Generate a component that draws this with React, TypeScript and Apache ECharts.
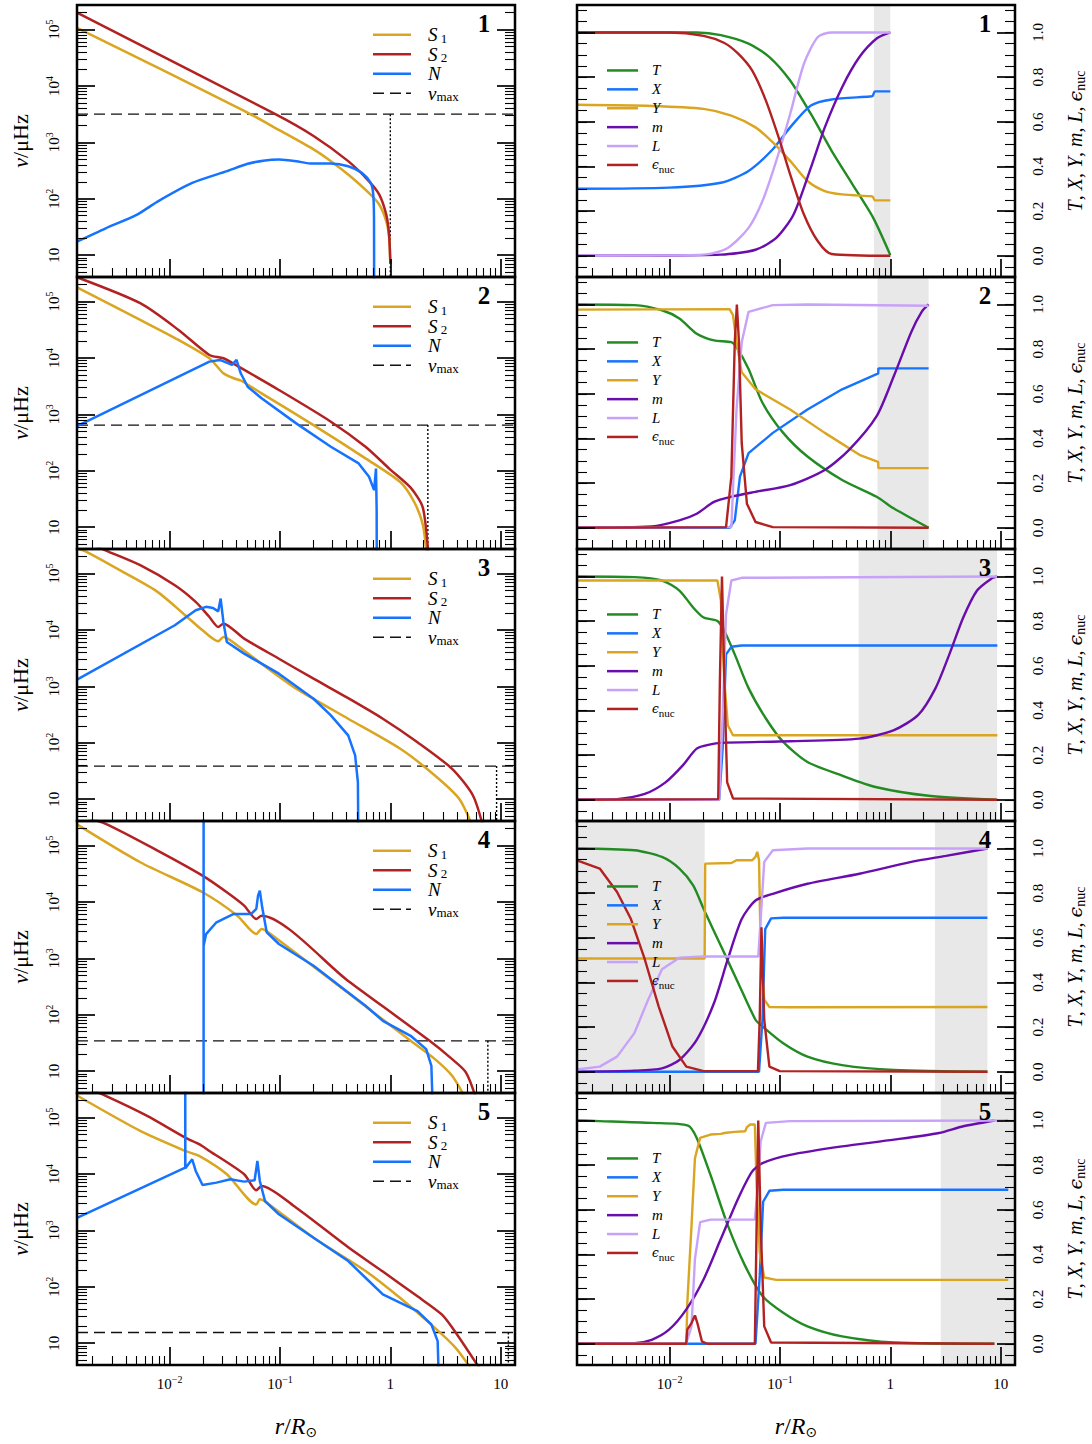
import React, { useEffect, useRef } from "react";
import * as echarts from "echarts";

const SERIF = "'Liberation Serif','DejaVu Serif',serif";

// ---- axis extents (x: log10 r/Rsun, left y: log10 nu/uHz, right y: normalised value)
const X_MIN = -2.84, X_MAX = 1.13;
const NU_MIN = 0.613, NU_MAX = 5.435;
const F_MIN = -0.095, F_MAX = 1.123;

// ---- tick values & labels
const X_MAJOR = [-2, -1, 0, 1];
const X_TICK_LABELS = ["10{sup|−2}", "10{sup|−1}", "1", "10"];
const NU_MAJOR = [1, 2, 3, 4, 5];
const NU_TICK_LABELS = ["10", "10{sup|2}", "10{sup|3}", "10{sup|4}", "10{sup|5}"];
const F_MAJOR = [0, 0.2, 0.4, 0.6, 0.8, 1.0];
const F_TICK_LABELS = ["0.0", "0.2", "0.4", "0.6", "0.8", "1.0"];
const PANEL_NUMBERS = ["1", "2", "3", "4", "5"];

// ---- left panels: [log10 r, log10 nu]
const S1_P1 = [[-2.84,5.03],[-1.325,3.56],[-1.01,3.22],[-0.696,2.875],[-0.539,2.667],[-0.382,2.43],[-0.193,2.1],[-0.099,1.893],[-0.036,1.595],[-0.01,1.3],[0.0,0.85]];
const S2_P1 = [[-2.84,5.3],[-1.042,3.5],[-0.696,3.113],[-0.382,2.667],[-0.193,2.31],[-0.099,2.07],[-0.036,1.71],[-0.011,1.357],[0.0,0.85]];
const N_P1 = [[-2.84,1.24],[-2.58,1.476],[-2.3,1.714],[-2.11,1.95],[-1.796,2.28],[-1.48,2.49],[-1.293,2.62],[-1.136,2.68],[-1.01,2.696],[-0.853,2.667],[-0.727,2.625],[-0.539,2.625],[-0.382,2.577],[-0.256,2.458],[-0.178,2.28],[-0.156,2.1],[-0.148,1.655],[-0.147,0.3]];

const S1_P2 = [[-2.84,5.25],[-2.267,4.675],[-1.92,4.32],[-1.64,3.994],[-1.513,3.728],[-1.42,3.64],[-1.356,3.6],[-1.167,3.373],[-0.696,2.81],[-0.225,2.22],[0.09,1.8],[0.215,1.45],[0.294,1.05],[0.33,0.5]];
const S2_P2 = [[-2.84,5.43],[-2.267,4.97],[-1.92,4.497],[-1.64,4.053],[-1.513,3.994],[-1.387,3.858],[-1.01,3.432],[-0.539,2.87],[-0.225,2.426],[-0.005,2.03],[0.184,1.7],[0.294,1.35],[0.345,0.5]];
const N_P2 = [[-2.84,2.79],[-1.64,3.935],[-1.545,3.965],[-1.435,3.876],[-1.394,3.965],[-1.356,3.728],[-1.293,3.49],[-1.167,3.284],[-0.853,2.84],[-0.539,2.426],[-0.287,2.13],[-0.193,1.893],[-0.147,1.657],[-0.13,2.04],[-0.124,1.3],[-0.123,0.3]];

const S1_P3 = [[-2.84,5.45],[-2.754,5.385],[-2.424,5.03],[-2.11,4.675],[-1.859,4.26],[-1.702,3.994],[-1.56,3.8],[-1.513,3.876],[-1.45,3.817],[-1.167,3.4],[-0.853,2.959],[-0.382,2.426],[0.09,1.893],[0.404,1.42],[0.624,1.006],[0.749,0.5]];
const S2_P3 = [[-2.84,5.63],[-2.55,5.385],[-2.267,5.148],[-1.953,4.793],[-1.764,4.497],[-1.64,4.23],[-1.56,4.053],[-1.513,4.112],[-1.325,3.846],[-1.01,3.49],[-0.696,3.136],[-0.382,2.79],[-0.068,2.426],[0.246,2.01],[0.56,1.538],[0.749,1.065],[0.843,0.5]];
const N_P3 = [[-2.84,3.12],[-1.953,4.083],[-1.764,4.35],[-1.67,4.41],[-1.607,4.39],[-1.56,4.33],[-1.538,4.556],[-1.513,4.142],[-1.482,3.787],[-1.325,3.58],[-1.01,3.225],[-0.696,2.78],[-0.539,2.485],[-0.382,2.13],[-0.319,1.775],[-0.294,1.3],[-0.29,0.3]];

const S1_P4 = [[-2.84,5.375],[-2.267,4.704],[-1.702,4.172],[-1.387,3.757],[-1.215,3.432],[-1.167,3.52],[-1.104,3.46],[-0.382,2.385],[0.184,1.538],[0.404,1.213],[0.56,0.917],[0.686,0.5]];
const S2_P4 = [[-2.84,5.55],[-2.58,5.385],[-2.11,4.911],[-1.702,4.467],[-1.482,4.172],[-1.325,3.935],[-1.215,3.698],[-1.167,3.757],[-0.382,2.6],[0.356,1.538],[0.56,1.213],[0.686,0.976],[0.78,0.5]];
const N_P4 = [[-1.6925,0.3],[-1.6925,6],[-1.692,3.225],[-1.67,3.43],[-1.576,3.64],[-1.419,3.787],[-1.261,3.787],[-1.215,3.876],[-1.199,4.112],[-1.183,4.2],[-1.161,3.9],[-1.12,3.46],[-1.01,3.254],[-0.696,2.87],[-0.382,2.396],[-0.225,2.16],[-0.068,1.893],[0.184,1.627],[0.325,1.39],[0.372,1.095],[0.385,0.3]];

const S1_P5 = [[-2.84,5.39],[-2.267,4.763],[-1.859,4.408],[-1.733,4.32],[-1.482,3.994],[-1.215,3.46],[-1.183,3.55],[-1.12,3.49],[-0.696,2.87],[-0.225,2.28],[0.09,1.8],[0.404,1.272],[0.592,0.917],[0.749,0.5]];
const S2_P5 = [[-2.84,5.6],[-2.58,5.385],[-2.204,5.03],[-1.859,4.645],[-1.733,4.527],[-1.64,4.408],[-1.325,3.994],[-1.215,3.71],[-1.167,3.787],[-0.853,3.4],[-0.382,2.7],[-0.068,2.27],[0.246,1.83],[0.466,1.509],[0.592,1.189],[0.827,0.5]];
const N_P5 = [[-2.84,3.22],[-1.859,4.112],[-1.859,6],[-1.858,4.1],[-1.796,4.26],[-1.764,4.053],[-1.702,3.805],[-1.576,3.846],[-1.45,3.905],[-1.325,3.864],[-1.23,3.888],[-1.205,4.23],[-1.183,3.876],[-1.136,3.52],[-1.01,3.284],[-0.696,2.87],[-0.382,2.456],[-0.225,2.16],[-0.068,1.864],[0.246,1.568],[0.372,1.331],[0.429,1.036],[0.44,0.3]];

const NUMAX_LOG = [3.5, 2.81, 1.586, 1.538, 1.189];
const RSTAR_LOG = [0.0, 0.34, 0.963, 0.884, 1.07];

// ---- right panels: [log10 r, value]
const T_P1 = [[-2.84,1.0],[-1.755,1.0],[-1.536,0.988],[-1.285,0.95],[-1.096,0.89],[-0.908,0.785],[-0.72,0.635],[-0.532,0.47],[-0.343,0.32],[-0.155,0.17],[0.0,0.003]];
const X_P1 = [[-2.84,0.3],[-2.006,0.305],[-1.536,0.327],[-1.285,0.38],[-1.065,0.477],[-0.908,0.575],[-0.72,0.673],[-0.532,0.7],[-0.186,0.713],[-0.16,0.716],[-0.139,0.736],[0.0,0.736]];
const Y_P1 = [[-2.84,0.676],[-2.163,0.671],[-1.693,0.658],[-1.441,0.628],[-1.222,0.575],[-1.065,0.508],[-0.908,0.425],[-0.751,0.335],[-0.594,0.29],[-0.437,0.275],[-0.186,0.267],[-0.16,0.265],[-0.139,0.248],[0.0,0.248]];
const M_P1 = [[-2.84,0],[-1.536,0.005],[-1.222,0.027],[-1.034,0.08],[-0.877,0.185],[-0.72,0.395],[-0.594,0.575],[-0.437,0.755],[-0.28,0.89],[-0.124,0.973],[0.0,1.0]];
const L_P1 = [[-2.84,0],[-1.693,0.005],[-1.473,0.035],[-1.285,0.125],[-1.159,0.245],[-1.034,0.425],[-0.908,0.635],[-0.783,0.86],[-0.657,0.98],[-0.532,1.0],[0.0,1.0]];
const E_P1 = [[-2.84,1.0],[-2.006,1.0],[-1.693,0.985],[-1.504,0.953],[-1.379,0.905],[-1.253,0.83],[-1.128,0.695],[-1.002,0.515],[-0.908,0.365],[-0.783,0.185],[-0.657,0.065],[-0.532,0.008],[0.0,0.0]];

const T_P2 = [[-2.84,1.0],[-2.32,0.997],[-2.07,0.974],[-1.912,0.937],[-1.755,0.869],[-1.598,0.839],[-1.441,0.831],[-1.394,0.809],[-1.285,0.711],[-1.159,0.56],[-0.971,0.425],[-0.751,0.319],[-0.437,0.214],[-0.124,0.139],[0.033,0.086],[0.347,0.0]];
const X_P2 = [[-2.84,0],[-1.457,0],[-1.41,0.033],[-1.363,0.229],[-1.285,0.334],[-1.065,0.425],[-0.751,0.53],[-0.437,0.62],[-0.124,0.688],[-0.11,0.69],[-0.108,0.714],[0.347,0.714]];
const Y_P2 = [[-2.84,0.977],[-1.457,0.979],[-1.426,0.952],[-1.394,0.831],[-1.347,0.696],[-1.222,0.62],[-0.908,0.53],[-0.594,0.425],[-0.28,0.327],[-0.124,0.297],[-0.11,0.295],[-0.108,0.267],[0.347,0.267]];
const M_P2 = [[-2.84,0],[-2.163,0.006],[-1.912,0.033],[-1.755,0.063],[-1.598,0.116],[-1.441,0.139],[-1.222,0.161],[-0.908,0.191],[-0.594,0.259],[-0.374,0.349],[-0.124,0.5],[0.033,0.681],[0.19,0.877],[0.284,0.967],[0.347,1.0]];
const L_P2 = [[-2.84,0],[-1.441,0.003],[-1.394,0.53],[-1.347,0.831],[-1.285,0.967],[-1.065,0.997],[-0.751,1.0],[0.347,0.994]];
const E_P2 = [[-2.84,0],[-1.489,0.003],[-1.441,0.229],[-1.41,0.831],[-1.391,1.0],[-1.372,0.831],[-1.347,0.38],[-1.3,0.108],[-1.222,0.026],[-1.065,0.003],[0.347,0]];

const T_P3 = [[-2.84,1.0],[-2.32,0.997],[-2.07,0.982],[-1.912,0.937],[-1.787,0.861],[-1.692,0.816],[-1.567,0.801],[-1.504,0.756],[-1.41,0.651],[-1.285,0.5],[-1.128,0.364],[-0.971,0.259],[-0.751,0.169],[-0.437,0.108],[-0.124,0.056],[0.347,0.018],[0.96,0.0]];
const X_P3 = [[-2.84,0],[-1.551,0],[-1.52,0.229],[-1.489,0.651],[-1.441,0.685],[-1.347,0.691],[0.97,0.691]];
const Y_P3 = [[-2.84,0.982],[-1.567,0.982],[-1.536,0.892],[-1.504,0.53],[-1.473,0.334],[-1.426,0.289],[0.97,0.289]];
const M_P3 = [[-2.84,0],[-2.477,0.003],[-2.226,0.026],[-2.038,0.078],[-1.881,0.154],[-1.755,0.229],[-1.63,0.248],[-1.536,0.255],[-0.908,0.262],[-0.28,0.274],[0.033,0.312],[0.253,0.38],[0.41,0.5],[0.535,0.651],[0.661,0.816],[0.786,0.937],[0.912,0.989],[0.968,1.0]];
const L_P3 = [[-2.84,0],[-1.551,0],[-1.52,0.38],[-1.489,0.831],[-1.441,0.982],[-1.347,0.994],[0.97,1.0]];
const E_P3 = [[-2.84,0],[-1.56,0.003],[-1.545,0.53],[-1.526,1.0],[-1.504,0.53],[-1.479,0.078],[-1.426,0.006],[0.97,0]];

const T_P4 = [[-2.84,1.0],[-2.32,0.992],[-2.07,0.962],[-1.912,0.91],[-1.787,0.835],[-1.692,0.729],[-1.536,0.564],[-1.379,0.398],[-1.222,0.233],[-1.159,0.203],[-0.971,0.128],[-0.751,0.068],[-0.437,0.03],[0.033,0.008],[0.88,0.0]];
const X_P4 = [[-2.84,0],[-1.19,0],[-1.159,0.233],[-1.134,0.639],[-1.081,0.687],[-0.971,0.69],[0.88,0.69]];
const Y_P4 = [[-2.84,0.507],[-1.683,0.507],[-1.678,0.932],[-1.441,0.935],[-1.394,0.947],[-1.253,0.947],[-1.222,0.962],[-1.206,0.985],[-1.19,0.947],[-1.175,0.534],[-1.143,0.323],[-1.096,0.29],[-0.908,0.289],[0.88,0.29]];
const M_P4 = [[-2.84,0],[-2.32,0.005],[-2.07,0.015],[-1.912,0.053],[-1.755,0.143],[-1.598,0.308],[-1.473,0.504],[-1.347,0.684],[-1.222,0.767],[-1.065,0.797],[-0.751,0.842],[-0.28,0.887],[0.19,0.94],[0.504,0.967],[0.88,1.0]];
const L_P4 = [[-2.84,0.01],[-2.634,0.023],[-2.477,0.068],[-2.32,0.173],[-2.195,0.323],[-2.07,0.459],[-1.912,0.511],[-1.692,0.516],[-1.197,0.516],[-1.175,0.684],[-1.143,0.94],[-1.065,0.992],[-0.751,1.0],[0.88,1.0]];
const E_P4 = [[-2.84,0.947],[-2.634,0.91],[-2.477,0.805],[-2.351,0.684],[-2.226,0.504],[-2.1,0.293],[-1.975,0.113],[-1.849,0.023],[-1.692,0.003],[-1.2,0.003],[-1.184,0.233],[-1.168,0.647],[-1.143,0.233],[-1.096,0.023],[-1.002,0.003],[0.88,0]];

const T_P5 = [[-2.84,1.0],[-2.634,0.997],[-2.163,0.989],[-1.834,0.977],[-1.755,0.922],[-1.63,0.756],[-1.473,0.53],[-1.316,0.349],[-1.159,0.214],[-0.971,0.139],[-0.751,0.078],[-0.437,0.033],[0.033,0.006],[0.943,0.0]];
const X_P5 = [[-2.84,0],[-1.222,0],[-1.184,0.304],[-1.153,0.636],[-1.096,0.685],[-0.971,0.69],[1.069,0.69]];
const Y_P5 = [[-2.84,0],[-1.849,0],[-1.84,0.184],[-1.802,0.53],[-1.771,0.831],[-1.724,0.922],[-1.63,0.937],[-1.536,0.94],[-1.504,0.944],[-1.41,0.949],[-1.316,0.952],[-1.3,0.97],[-1.269,0.982],[-1.228,0.982],[-1.212,0.711],[-1.184,0.41],[-1.143,0.297],[-1.034,0.286],[1.069,0.286]];
const M_P5 = [[-2.84,0],[-2.32,0.003],[-2.163,0.018],[-2.006,0.063],[-1.849,0.154],[-1.692,0.289],[-1.536,0.47],[-1.379,0.651],[-1.253,0.771],[-1.159,0.809],[-0.908,0.846],[-0.437,0.884],[0.033,0.914],[0.441,0.944],[0.661,0.974],[0.943,1.0]];
const L_P5 = [[-2.84,0],[-1.849,0.003],[-1.802,0.078],[-1.771,0.38],[-1.724,0.545],[-1.63,0.556],[-1.228,0.556],[-1.206,0.681],[-1.175,0.907],[-1.128,0.989],[-0.908,0.997],[1.069,1.0]];
const E_P5 = [[-2.84,0],[-1.85,0],[-1.84,0.063],[-1.802,0.093],[-1.771,0.127],[-1.749,0.093],[-1.708,0.011],[-1.661,0],[-1.228,0],[-1.212,0.53],[-1.197,1.0],[-1.175,0.53],[-1.143,0.078],[-1.081,0.006],[0.943,0]];

// shaded (convective) regions in log10 r
const SHADE_P1 = [[-0.149, 0.0]];
const SHADE_P2 = [[-0.117, 0.347]];
const SHADE_P3 = [[-0.287, 0.968]];
const SHADE_P4 = [[-2.84, -1.683], [0.404, 0.88]];
const SHADE_P5 = [[0.457, 1.13]];

const LEFT_DATA = [
  { S1: S1_P1, S2: S2_P1, N: N_P1 },
  { S1: S1_P2, S2: S2_P2, N: N_P2 },
  { S1: S1_P3, S2: S2_P3, N: N_P3 },
  { S1: S1_P4, S2: S2_P4, N: N_P4 },
  { S1: S1_P5, S2: S2_P5, N: N_P5 },
];
const RIGHT_DATA = [
  { T: T_P1, X: X_P1, Y: Y_P1, m: M_P1, L: L_P1, enuc: E_P1, shade: SHADE_P1 },
  { T: T_P2, X: X_P2, Y: Y_P2, m: M_P2, L: L_P2, enuc: E_P2, shade: SHADE_P2 },
  { T: T_P3, X: X_P3, Y: Y_P3, m: M_P3, L: L_P3, enuc: E_P3, shade: SHADE_P3 },
  { T: T_P4, X: X_P4, Y: Y_P4, m: M_P4, L: L_P4, enuc: E_P4, shade: SHADE_P4 },
  { T: T_P5, X: X_P5, Y: Y_P5, m: M_P5, L: L_P5, enuc: E_P5, shade: SHADE_P5 },
];

const LEFT_NAMES = ["S1", "S2", "N"];
const RIGHT_NAMES = ["T", "X", "Y", "m", "L", "enuc"];
// which curves are drawn with spline smoothing (smooth sigmoid-like shapes only)
const SMOOTHED = new Set(["S1", "S2", "N@0", "T", "m", "X@0", "Y@0", "L@0", "enuc@0"]);
const COLORS: Record<string, string> = {
  S1: "#DAA520", S2: "#B22222", N: "#1673FF", numax: "#111",
  T: "#228B22", X: "#1673FF", Y: "#DAA520", m: "#6A0DAD", L: "#C8A2F8", enuc: "#B22222",
};
const LEFT_LEGEND_LABELS: Record<string, string> = {
  S1: "{sp| }{i|S}{sb| 1}", S2: "{sp| }{i|S}{sb| 2}", N: "{sp| }{i|N}", numax: "{sp| }{i|ν}{sb|max}",
};
const RIGHT_LEGEND_LABELS: Record<string, string> = {
  T: "{sp| }{i|T}", X: "{sp| }{i|X}", Y: "{sp| }{i|Y}", m: "{sp| }{i|m}", L: "{sp| }{i|L}", enuc: "{sp| }{e|ϵ}{sb|nuc}",
};
const DASH_ICON = "path://M0,0h11v1.4h-11z M17,0h11v1.4h-11z M33,0h5v1.4h-5z";

// ---- layout
const ROW_TOP = 5, ROW_H = 272;
const COL_LEFT = [77, 577], COL_W = 438;

function logMinor(lo: number, hi: number) {
  const out: number[] = [];
  for (let n = Math.floor(lo) - 1; n <= Math.ceil(hi); n++)
    for (let k = 2; k <= 9; k++) {
      const v = n + Math.log10(k);
      if (v > lo && v < hi) out.push(v);
    }
  return out;
}
const X_MINOR = logMinor(X_MIN, X_MAX);
const NU_MINOR = logMinor(NU_MIN, NU_MAX);
const F_MINOR: number[] = [];
for (let i = -1; i <= 22; i++) F_MINOR.push(Math.round(i * 5) / 100);

function pick(vals: number[], labels: string[], v: number) {
  const i = vals.findIndex((m) => Math.abs(m - v) < 1e-6);
  return i >= 0 ? labels[i] : "";
}

const SUP_RICH = {
  sup: { fontFamily: SERIF, fontSize: 10, lineHeight: 10, verticalAlign: "top", color: "#000" },
};

function tickAxis(g: number, min: number, max: number, position: string, ticks: number[], len: number, width: number) {
  return {
    type: "value", gridIndex: g, min, max, position, z: 10,
    axisLine: { show: false, onZero: false },
    splitLine: { show: false },
    axisTick: { show: true, inside: true, length: len, customValues: ticks, lineStyle: { color: "#000", width } },
    axisLabel: { show: false, customValues: ticks },
    axisPointer: { show: false },
  } as any;
}

function buildOption() {
  const grid: any[] = [], xAxis: any[] = [], yAxis: any[] = [], series: any[] = [], legend: any[] = [], graphic: any[] = [];
  for (let row = 0; row < 5; row++) {
    for (let col = 0; col < 2; col++) {
      const g = row * 2 + col;
      const top = ROW_TOP + row * ROW_H;
      const left = COL_LEFT[col];
      grid.push({ left, top, width: COL_W, height: ROW_H, show: false });

      // x axes
      const xMaj = tickAxis(g, X_MIN, X_MAX, "bottom", X_MAJOR, 18, 1.7);
      if (row === 4) {
        xMaj.axisLabel = {
          show: true, customValues: X_MAJOR, margin: 9, color: "#000", fontFamily: SERIF, fontSize: 15, lineHeight: 20,
          formatter: (v: number) => pick(X_MAJOR, X_TICK_LABELS, v), rich: SUP_RICH,
        };
        xMaj.name = "{i|r}{n|/}{i|R}{s|⊙}";
        xMaj.nameLocation = "middle";
        xMaj.nameGap = 48;
        xMaj.nameTextStyle = {
          color: "#000",
          rich: {
            i: { fontFamily: SERIF, fontStyle: "italic", fontSize: 24, lineHeight: 26, color: "#000" },
            n: { fontFamily: SERIF, fontSize: 24, lineHeight: 26, color: "#000" },
            s: { fontFamily: "'DejaVu Sans',sans-serif", fontSize: 14, lineHeight: 12, verticalAlign: "bottom", color: "#000" },
          },
        };
      }
      xAxis.push(xMaj, tickAxis(g, X_MIN, X_MAX, "bottom", X_MINOR, 9, 1.1));

      // y axes
      const isLeft = col === 0;
      const yMin = isLeft ? NU_MIN : F_MIN, yMax = isLeft ? NU_MAX : F_MAX;
      const maj = isLeft ? NU_MAJOR : F_MAJOR, minr = isLeft ? NU_MINOR : F_MINOR;
      const yLM = tickAxis(g, yMin, yMax, "left", maj, 18, 1.7);
      const yLm = tickAxis(g, yMin, yMax, "left", minr, 10, 1.1);
      const yRM = tickAxis(g, yMin, yMax, "right", maj, 18, 1.7);
      const yRm = tickAxis(g, yMin, yMax, "right", minr, 10, 1.1);
      if (isLeft) {
        yLM.axisLabel = {
          show: true, customValues: NU_MAJOR, rotate: 90, margin: 13, color: "#000", fontFamily: SERIF, fontSize: 15, lineHeight: 20,
          formatter: (v: number) => pick(NU_MAJOR, NU_TICK_LABELS, v), rich: SUP_RICH,
        };
        yLM.name = "{i|ν}{n|/μHz}";
        yLM.nameLocation = "middle";
        yLM.nameRotate = 90;
        yLM.nameGap = 46;
        yLM.nameTextStyle = {
          color: "#000",
          rich: {
            i: { fontFamily: SERIF, fontStyle: "italic", fontSize: 22, color: "#000" },
            n: { fontFamily: SERIF, fontSize: 22, color: "#000" },
          },
        };
      } else {
        yRM.axisLabel = {
          show: true, customValues: F_MAJOR, rotate: 90, margin: 15, color: "#000", fontFamily: SERIF, fontSize: 15,
          formatter: (v: number) => pick(F_MAJOR, F_TICK_LABELS, v),
        };
        yRM.name = "{i|T}{n|, }{i|X}{n|, }{i|Y}{n|, }{i|m}{n|, }{i|L}{n|, }{e|ϵ}{s|nuc}";
        yRM.nameLocation = "middle";
        yRM.nameRotate = 90;
        yRM.nameGap = 48;
        yRM.nameTextStyle = {
          color: "#000",
          rich: {
            i: { fontFamily: SERIF, fontStyle: "italic", fontSize: 20, lineHeight: 24, color: "#000" },
            e: { fontFamily: "'DejaVu Serif',serif", fontStyle: "italic", fontSize: 19, lineHeight: 24, color: "#000" },
            n: { fontFamily: SERIF, fontSize: 20, lineHeight: 24, color: "#000" },
            s: { fontFamily: SERIF, fontSize: 14, lineHeight: 12, verticalAlign: "bottom", color: "#000" },
          },
        };
      }
      yAxis.push(yLM, yLm, yRM, yRm);

      const xi = 2 * g, yi = 4 * g;
      const smoothOf = (nm: string) => (SMOOTHED.has(nm) || SMOOTHED.has(nm + "@" + row) ? 0.25 : false);
      if (isLeft) {
        const d = LEFT_DATA[row] as any;
        for (const nm of LEFT_NAMES) {
          series.push({
            type: "line", name: nm, xAxisIndex: xi, yAxisIndex: yi, data: d[nm], symbol: "none", showSymbol: false,
            smooth: smoothOf(nm),
            lineStyle: { color: COLORS[nm], width: 2.5 }, itemStyle: { color: COLORS[nm] }, z: 3, silent: true, clip: true,
          });
        }
        series.push({
          type: "line", name: "numax", xAxisIndex: xi, yAxisIndex: yi,
          data: [[X_MIN, NUMAX_LOG[row]], [X_MAX, NUMAX_LOG[row]]], symbol: "none",
          lineStyle: { color: COLORS.numax, width: 1.3, type: [11, 6] }, itemStyle: { color: COLORS.numax }, z: 2, silent: true,
        });
        series.push({
          type: "line", name: "rstar", xAxisIndex: xi, yAxisIndex: yi,
          data: [[RSTAR_LOG[row], NUMAX_LOG[row]], [RSTAR_LOG[row], NU_MIN]], symbol: "none",
          lineStyle: { color: "#000", width: 1.4, type: [2, 2] }, z: 2, silent: true,
        });
        legend.push({
          left: 373, top: top + 20, orient: "vertical", padding: 0, itemWidth: 38, itemHeight: 2.6, itemGap: 0,
          icon: "rect", selectedMode: false,
          data: ["S1", "S2", "N", { name: "numax", icon: DASH_ICON }],
          formatter: (n: string) => LEFT_LEGEND_LABELS[n],
          textStyle: {
            color: "#000", lineHeight: 19.5, height: 19.5,
            rich: {
              sp: { width: 12, lineHeight: 19.5 },
              i: { fontFamily: SERIF, fontStyle: "italic", fontSize: 19, lineHeight: 19.5, color: "#000" },
              sb: { fontFamily: SERIF, fontSize: 13, lineHeight: 10, verticalAlign: "bottom", color: "#000" },
            },
          },
        });
      } else {
        const d = RIGHT_DATA[row] as any;
        series.push({
          type: "line", name: "shade", xAxisIndex: xi, yAxisIndex: yi, data: [], z: 1, silent: true,
          markArea: {
            silent: true, itemStyle: { color: "#E8E8E8" },
            data: d.shade.map((s: number[]) => [{ xAxis: s[0] }, { xAxis: s[1] }]),
          },
        });
        for (const nm of RIGHT_NAMES) {
          series.push({
            type: "line", name: nm, xAxisIndex: xi, yAxisIndex: yi, data: d[nm], symbol: "none", showSymbol: false,
            smooth: smoothOf(nm),
            lineStyle: { color: COLORS[nm], width: 2.4 }, itemStyle: { color: COLORS[nm] }, z: 3, silent: true, clip: true,
          });
        }
        legend.push({
          left: 607, top: top + 56, orient: "vertical", padding: 0, itemWidth: 31, itemHeight: 2.5, itemGap: 0,
          icon: "rect", selectedMode: false, data: RIGHT_NAMES,
          formatter: (n: string) => RIGHT_LEGEND_LABELS[n],
          textStyle: {
            color: "#000", lineHeight: 18.9, height: 18.9,
            rich: {
              sp: { width: 9, lineHeight: 18.9 },
              i: { fontFamily: SERIF, fontStyle: "italic", fontSize: 15, lineHeight: 18.9, color: "#000" },
              e: { fontFamily: "'DejaVu Serif',serif", fontStyle: "italic", fontSize: 12, lineHeight: 18.9, color: "#000" },
              sb: { fontFamily: SERIF, fontSize: 11, lineHeight: 8, verticalAlign: "bottom", color: "#000" },
            },
          },
        });
      }

      graphic.push({
        type: "rect", z: 100, silent: true,
        shape: { x: left, y: top, width: COL_W, height: ROW_H },
        style: { fill: "none", stroke: "#000", lineWidth: 2.5 },
      });
      graphic.push({
        type: "text", z: 100, silent: true, x: left + COL_W - (isLeft ? 31 : 30), y: top + 18,
        style: { text: PANEL_NUMBERS[row], fontFamily: SERIF, fontWeight: "bold", fontSize: 25, fill: "#000", align: "center", verticalAlign: "middle" },
      });
    }
  }
  return { animation: false, backgroundColor: "#fff", grid, xAxis, yAxis, series, legend, graphic };
}

export default function App() {
  const ref = useRef<HTMLDivElement>(null);
  useEffect(() => {
    const chart = echarts.init(ref.current!, null, { renderer: "svg" });
    chart.setOption(buildOption() as any);
    return () => chart.dispose();
  }, []);
  return <div ref={ref} style={{ position: "absolute", left: 0, top: 0, width: 1092, height: 1444, background: "#fff" }} />;
}
